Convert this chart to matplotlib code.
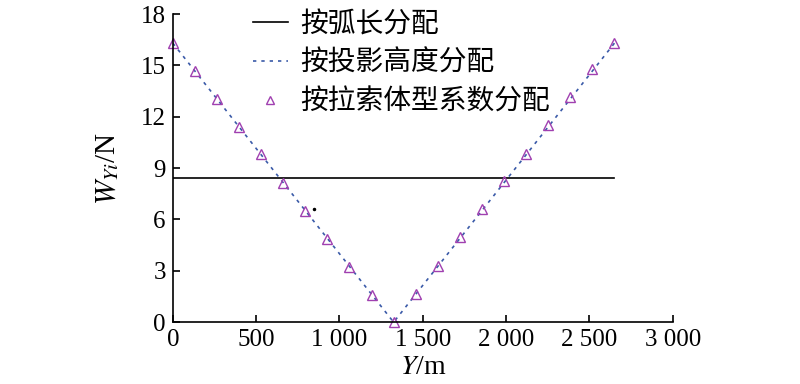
import matplotlib
matplotlib.use("Agg")
import matplotlib.pyplot as plt
import numpy as np

plt.rcParams['font.family'] = ['Liberation Serif', 'Noto Sans CJK SC']
plt.rcParams['mathtext.fontset'] = 'stix'

# 数据
y_pos = [0, 132.5, 265, 397.5, 530, 662.5, 795, 927.5, 1060, 1192.5, 1325,
         1457.5, 1590, 1722.5, 1855, 1987.5, 2120, 2252.5, 2385, 2517.5, 2650]
w_proj = [16.3, 14.67, 13.04, 11.41, 9.78, 8.15, 6.52, 4.89, 3.26, 1.63, 0,
          1.63, 3.26, 4.89, 6.52, 8.15, 9.78, 11.41, 13.04, 14.67, 16.3]
w_shape = [16.3, 14.65, 13.05, 11.4, 9.8, 8.15, 6.5, 4.85, 3.25, 1.6, 0,
           1.65, 3.3, 4.95, 6.6, 8.25, 9.85, 11.5, 13.15, 14.8, 16.3]
arc_x = [0, 2650]
arc_w = [8.4, 8.4]
stray_x = [850]
stray_w = [6.6]

xticks = [0, 500, 1000, 1500, 2000, 2500, 3000]
xtick_labels = ['0', '500', '1 000', '1 500', '2 000', '2 500', '3 000']
yticks = [0, 3, 6, 9, 12, 15, 18]

fig = plt.figure(figsize=(8, 3.84), dpi=100)
ax = fig.add_axes([0.216, 0.161, 0.625, 0.8025])

l1, = ax.plot(arc_x, arc_w, color='black', lw=1.2, label='按弧长分配')
l2, = ax.plot(y_pos, w_proj, color='#3a5aa8', lw=1.2, ls=(0, (2, 3)),
              label='按投影高度分配')
l3, = ax.plot(y_pos, w_shape, ls='none', marker='^', ms=6.5, mfc='none',
              mec='#a040b0', mew=1.0, label='按拉索体型系数分配', clip_on=False)
ax.plot(stray_x, stray_w, 'k.', ms=3)

ax.set_xlim(0, 3000)
ax.set_ylim(0, 18)
ax.set_xticks(xticks)
ax.set_xticklabels(xtick_labels)
ax.set_yticks(yticks)
ax.tick_params(direction='in', labelsize=18, length=5, width=1.2, pad=5)
ax.spines['top'].set_visible(False)
ax.spines['right'].set_visible(False)
ax.spines['left'].set_linewidth(1.2)
ax.spines['bottom'].set_linewidth(1.2)

ax.set_xlabel(r'$Y$/m', fontsize=20, labelpad=3)
ax.set_ylabel(r'$W_{Yi}$/N', fontsize=21, labelpad=14)

leg = fig.legend(handles=[l1, l2, l3], loc='upper left',
                 bbox_to_anchor=(253 / 800, 1 - 12 / 384), frameon=False,
                 fontsize=20, handlelength=1.25, handletextpad=0.45,
                 labelspacing=0.46, borderpad=0, borderaxespad=0,
                 markerscale=0.8)

fig.savefig('out.png', dpi=100)
